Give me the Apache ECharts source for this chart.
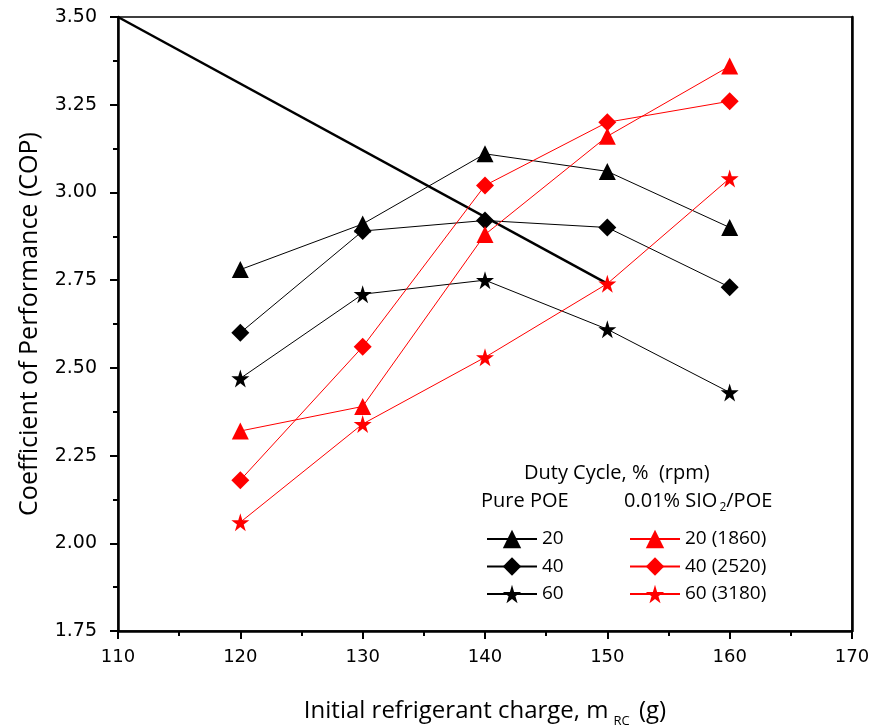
<!DOCTYPE html>
<html>
<head>
<meta charset="utf-8">
<script src="https://cdn.jsdelivr.net/npm/echarts@6/dist/echarts.min.js"></script>
<style>
  html, body { margin: 0; padding: 0; background: #fff; }
  #chart { width: 872px; height: 728px; }
</style>
</head>
<body>
<div id="chart"></div>
<script>
// refrigerant charge (g)
const charge = [120, 130, 140, 150, 160];

// pure POE, duty cycle 20 / 40 / 60 %
const pure20 = [2.78, 2.91, 3.11, 3.06, 2.90];
const pure40 = [2.60, 2.89, 2.92, 2.90, 2.73];
const pure60 = [2.47, 2.71, 2.75, 2.61, 2.43];

// 0.01% SiO2/POE
const nano20 = [2.32, 2.39, 2.88, 3.16, 3.36];
const nano40 = [2.18, 2.56, 3.02, 3.20, 3.26];
const nano60 = [2.06, 2.34, 2.53, 2.74, 3.04];

// thick guide line
const guideX = [110, 150];
const guideY = [3.50, 2.74];

const starPath = "path://M50,0 L61,35 L98,35 L68,57 L79,91 L50,70 L21,91 L32,57 L2,35 L39,35 Z";
const font = "Open Sans";

function pts(ys, xs) {
  xs = xs || charge;
  return xs.map((x, i) => [x, ys[i]]);
}

function line(name, ys, color, symbol, size) {
  return {
    name: name,
    type: "line",
    data: pts(ys),
    symbol: symbol,
    symbolSize: size,
    lineStyle: { color: color, width: 1 },
    itemStyle: { color: color },
    z: 3,
  };
}

const legendBase = {
  orient: "vertical",
  top: 524,
  itemWidth: 50,
  itemHeight: 23,
  itemGap: 7.5,
  textStyle: { fontFamily: font, fontSize: 19, lineHeight: 20, color: "#000" },
};

const chart = echarts.init(document.getElementById("chart"));

const option = {
  backgroundColor: "#fff",
  animation: false,
  grid: {
    left: 118,
    right: 20,
    top: 17,
    bottom: 97,
    outerBoundsMode: "none",
    containLabel: false,
    show: true,
    borderColor: "#000",
    borderWidth: 1.5,
  },
  xAxis: {
    type: "value",
    min: 110,
    max: 170,
    interval: 10,
    name: "Initial refrigerant charge, m{sub|RC} (g)",
    nameLocation: "middle",
    nameGap: 64,
    nameTextStyle: {
      fontFamily: font,
      fontSize: 24,
      color: "#000",
      rich: { sub: { fontSize: 13, fontFamily: font, padding: [20, 3, 0, 5] } },
    },
    axisLine: { lineStyle: { color: "#000", width: 2.5 } },
    axisTick: { inside: false, length: 8, lineStyle: { color: "#000", width: 2 } },
    minorTick: { show: true, splitNumber: 2, length: 5, lineStyle: { color: "#000", width: 2 } },
    axisLabel: { fontFamily: "DejaVu Sans", fontSize: 18, color: "#000", margin: 17 },
    splitLine: { show: false },
  },
  yAxis: [
    {
      type: "value",
      min: 1.75,
      max: 3.5,
      interval: 0.25,
      name: "Coefficient of Performance (COP)",
      nameLocation: "middle",
      nameGap: 76,
      nameTextStyle: { fontFamily: font, fontSize: 25, color: "#000" },
      axisLine: { lineStyle: { color: "#000", width: 2.5 } },
      axisTick: { inside: false, length: 8, lineStyle: { color: "#000", width: 2 } },
      minorTick: { show: true, splitNumber: 2, length: 5, lineStyle: { color: "#000", width: 2 } },
      axisLabel: {
        fontFamily: "DejaVu Sans",
        fontSize: 19,
        color: "#000",
        margin: 21,
        formatter: (v) => v.toFixed(2),
      },
      splitLine: { show: false },
    },
    {
      type: "value",
      position: "right",
      min: 1.75,
      max: 3.5,
      interval: 0.25,
      axisLine: { show: true, lineStyle: { color: "#000", width: 2.5 } },
      axisTick: { show: false },
      axisLabel: { show: false },
      splitLine: { show: false },
    },
  ],
  legend: [
    Object.assign({}, legendBase, { left: 481, data: ["20", "40", "60"] }),
    Object.assign({}, legendBase, { left: 624, data: ["20 (1860)", "40 (2520)", "60 (3180)"] }),
  ],
  graphic: [
    {
      type: "text",
      left: 524,
      top: 463,
      style: { text: "Duty Cycle, %  (rpm)", fontFamily: font, fontSize: 20, fill: "#000" },
    },
    {
      type: "text",
      left: 481,
      top: 491,
      style: { text: "Pure POE", fontFamily: font, fontSize: 20, fill: "#000" },
    },
    {
      type: "text",
      left: 624,
      top: 491,
      style: {
        text: "0.01% SIO{sub|2}/POE",
        fontFamily: font,
        fontSize: 20,
        fill: "#000",
        rich: { sub: { fontSize: 12, fontFamily: font, padding: [14, 0, 0, 2] } },
      },
    },
  ],
  series: [
    {
      name: "guide",
      type: "line",
      data: pts(guideY, guideX),
      symbol: "none",
      lineStyle: { color: "#000", width: 2.5 },
      z: 2,
    },
    line("20", pure20, "#000", "triangle", 17),
    line("40", pure40, "#000", "diamond", 18),
    line("60", pure60, "#000", starPath, 18),
    line("20 (1860)", nano20, "#ff0000", "triangle", 17),
    line("40 (2520)", nano40, "#ff0000", "diamond", 18),
    line("60 (3180)", nano60, "#ff0000", starPath, 18),
  ],
};

chart.setOption(option);
</script>
</body>
</html>
